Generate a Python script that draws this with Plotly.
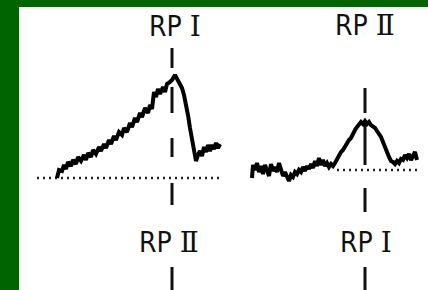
import plotly.graph_objects as go

# Left recording (RP I peak) — time vs. signal
left_t = [57,59,62,64,66,68,71,73,76,78,81,84,86,88,91,93,96,99,101,104,106,109,111,114,116,119,122,124,127,130,132,135,137,140,142,145,148,150,152,154,156,158,160,163,165,167,170,172,175,178,180,182,184,186,188,190,192,194,196,198,200,202,204,206,208,210,212,214,216,218,220]
left_py = [178,170,171,165,169,162,166,160,164,157,161,155,160,153,157,150,154,147,151,144,148,140,144,136,140,132,135,128,132,123,127,118,122,113,117,108,113,105,109,92,97,89,94,87,92,84,82,80,75,80,84,88,95,103,115,128,140,152,161,155,151,156,147,152,145,151,145,149,143,148,144]

# Right recording (RP II peak)
right_t = [252,253,255,257,259,261,263,265,267,269,271,273,275,277,279,281,283,285,287,289,291,293,295,297,299,301,303,305,307,309,311,313,315,317,319,321,323,325,327,329,331,333,335,337,339,341,343,345,347,349,351,353,355,357,359,361,363,365,367,369,371,373,375,377,379,381,383,385,387,389,391,393,395,397,399,401,403,405,407,409,411,413,415,417]
right_py = [178,165,170,163,172,166,174,165,170,176,164,171,167,172,163,170,176,172,178,181,175,177,172,174,170,172,167,171,166,169,164,168,161,166,158,165,160,166,163,167,164,166,163,159,155,152,150,146,144,140,138,133,130,127,124,122,124,121,124,122,125,126,128,131,134,137,142,146,152,157,161,162,164,161,163,159,160,155,158,154,160,156,152,160]

H = 290
left_y = [H - v for v in left_py]
right_y = [H - v for v in right_py]

# Baselines: (t_start, t_end, level)
left_base = (37, 222, H - 178)
right_base = (337, 421, H - 170)

# Peak markers: x position and dashed segments (top, bottom)
left_mark_x = 172
left_mark_segs = [(48, 68), (87, 113), (138, 157), (183, 205), (267, 290)]
right_mark_x = 365
right_mark_segs = [(88, 113), (123, 165), (188, 212), (267, 290)]

label_prefix = ["RP", "RP", "RP", "RP"]
label_numeral = ["Ⅰ", "Ⅱ", "Ⅱ", "Ⅰ"]
label_x = [175, 365, 169, 366]
label_py = [26, 25, 242, 242]

fig = go.Figure()

for (a, b, lvl) in [left_base, right_base]:
    fig.add_trace(go.Scatter(x=[a, b], y=[lvl, lvl], mode="lines",
                             line=dict(color="#222", width=2.5, dash="2px,4px"),
                             hoverinfo="skip", showlegend=False))

def seg_xy(xc, segs):
    xs, ys = [], []
    for (t, b) in segs:
        xs += [xc, xc, None]
        ys += [H - t, H - b, None]
    return xs, ys

for xc, segs in [(left_mark_x, left_mark_segs), (right_mark_x, right_mark_segs)]:
    xs, ys = seg_xy(xc, segs)
    fig.add_trace(go.Scatter(x=xs, y=ys, mode="lines",
                             line=dict(color="#111", width=3),
                             hoverinfo="skip", showlegend=False))

fig.add_trace(go.Scatter(x=left_t, y=left_y, mode="lines",
                         line=dict(color="#000", width=4), showlegend=False))
fig.add_trace(go.Scatter(x=right_t, y=right_y, mode="lines",
                         line=dict(color="#000", width=4), showlegend=False))

for pre, num, x, py in zip(label_prefix, label_numeral, label_x, label_py):
    txt = f"{pre} <span style='font-family:DejaVu Serif'>{num}</span>"
    fig.add_annotation(x=x, y=H - py, xref="x", yref="y", text=txt,
                       showarrow=False,
                       font=dict(family="Liberation Sans Narrow, DejaVu Sans Condensed, Arial", size=28, color="#111"))

fig.update_layout(
    width=428, height=290,
    margin=dict(l=19, r=0, t=7, b=0),
    paper_bgcolor="#006400",
    plot_bgcolor="white",
    xaxis=dict(range=[19, 428], visible=False, fixedrange=True),
    yaxis=dict(range=[0, 283], visible=False, fixedrange=True),
)

fig.write_html("out.html", config={"displayModeBar": False},
               post_script="document.body.style.margin='0';document.body.style.overflow='hidden';")
